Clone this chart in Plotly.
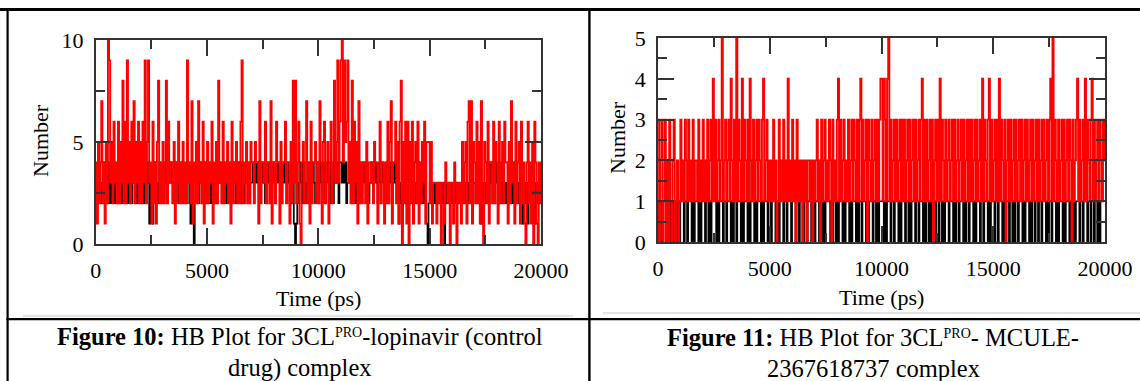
import plotly.graph_objects as go

time_ps = list(range(0, 20001, 50))

# Figure 10: 3CLpro-lopinavir (black = H-bonds, red = pairs)
lop_black = [
    3,2,3,4,2,3,2,4,3,2, 3,4,2,3,2,3,4,2,3,2,   3,4,2,3,2,4,3,2,3,2, 4,3,2,3,4,2,3,2,4,3,
    2,3,4,2,3,2,4,3,1,3, 2,1,3,4,2,3,2,4,3,2,   3,2,4,3,2,4,3,4,3,2, 3,2,4,3,2,3,4,2,3,2,
    3,2,4,3,2,1,3,2,0,2, 4,3,2,3,4,2,3,2,4,3,   3,4,3,2,4,3,2,3,4,2, 3,4,3,2,3,4,3,2,4,3,
    2,4,3,2,4,3,2,3,4,3, 2,4,3,2,3,4,3,2,4,3,   3,4,3,4,3,4,3,2,4,3, 4,3,2,4,3,4,3,2,3,4,
    3,4,3,4,3,4,2,3,4,3, 4,3,4,3,2,3,4,3,1,0,   1,3,2,4,3,2,4,3,2,3, 4,3,2,4,3,4,3,2,3,4,
    2,4,3,2,3,4,2,3,4,3, 2,4,3,2,4,3,4,3,2,4,   4,3,4,3,4,2,3,4,3,2, 3,4,3,2,3,4,2,3,4,3,
    3,4,3,4,3,2,3,4,3,4, 3,4,3,2,3,4,3,4,3,2,   3,4,2,3,4,3,2,3,4,3, 2,3,1,3,2,1,2,3,2,3,
    3,2,3,2,3,4,3,2,3,2, 4,3,2,3,2,3,2,1,0,2,   3,2,3,2,3,2,3,2,3,2, 3,2,3,0,2,3,2,3,2,3,
    2,3,2,3,2,3,2,3,2,3, 2,3,2,3,2,3,2,3,2,3,   3,2,3,2,3,2,1,3,2,3, 2,3,4,2,3,4,3,2,3,4,
    3,2,3,4,3,2,4,3,2,3, 4,3,2,3,2,3,4,3,2,3,   2,3,2,1,2,3,2,3,1,2, 3,2,3,2,1,3,2,3,2,3,
    3]
lop_red = [
    4,1,5,2,4,7,2,4,1,5, 2,10,9,3,5,2,6,3,4,2,  6,2,5,3,8,2,6,2,9,3, 5,2,6,3,7,2,5,3,6,2,
    5,2,6,3,9,2,5,9,3,4, 1,6,2,4,1,5,8,2,4,2,   5,2,4,8,2,6,3,4,4,2, 5,1,4,3,6,2,4,2,5,2,
    4,2,9,3,4,2,7,1,4,2, 5,2,7,3,4,2,6,1,4,2,   5,2,4,3,6,1,4,2,5,2, 8,3,4,2,6,2,4,3,5,2,
    4,1,6,2,4,3,5,2,4,2, 6,9,2,4,3,5,2,4,2,5,   4,4,2,5,4,4,1,7,2,4, 4,3,6,2,4,4,2,7,1,4,
    4,2,6,4,4,1,5,2,4,4, 6,2,4,4,1,5,2,8,3,8,   2,4,6,1,0,4,5,2,4,7, 2,4,1,6,2,4,4,5,2,4,
    2,7,4,1,5,6,2,4,5,1, 4,6,2,4,8,3,5,9,3,6,   9,10,4,9,5,6,9,3,5,2, 8,2,6,3,5,1,7,2,4,2,
    4,4,2,5,1,4,4,3,4,2, 5,4,4,1,4,6,2,4,4,1,   4,2,6,2,5,7,1,4,4,6, 2,5,1,6,8,0,5,2,6,1,
    6,0,5,2,6,1,4,5,2,6, 1,4,2,5,3,6,1,5,5,5,   2,5,1,3,3,3,1,3,2,3, 0,3,3,1,4,3,2,3,0,3,
    3,1,4,3,0,3,2,3,1,5, 2,4,5,1,6,7,2,7,1,5,   4,2,6,2,5,1,7,2,0,5, 4,2,6,1,4,4,2,6,2,5,
    4,1,6,2,4,5,2,6,4,4, 1,5,2,7,3,4,1,6,2,4,   5,1,6,2,4,1,0,4,6,2, 4,1,5,0,6,4,1,0,4,2,
    4]

# Figure 11: 3CLpro-MCULE-2367618737
mcule_black = [
    1,0,1,0,1,1,2,1,0,1, 0,1,1,1,0,1,1,0,1,0,   1,1,1,0,1,1,0,1,1,1, 0,1,0,1,1,1,0,1,0,1,
    1,1,0,1,1,0,1,0,1,1, 1,1,0,1,0,1,1,1,0,1,   1,0,1,1,1,0,1,0,1,1, 0,1,1,1,0,1,0,1,1,1,
    0,2,0,1,1,1,0,1,0,1, 1,1,0,1,0,1,1,1,0,1,   1,0,1,1,1,0,1,1,0,1, 1,1,0,1,1,0,1,1,1,0,
    1,1,1,0,1,1,0,1,1,1, 0,1,1,0,1,1,1,0,1,1,   0,1,1,1,0,1,1,0,1,0, 1,1,1,1,0,1,0,1,1,0,
    1,0,1,1,1,0,1,0,1,1, 1,0,1,0,1,1,1,0,1,0,   1,1,0,1,1,1,0,1,0,1, 1,1,0,1,1,0,1,0,1,1,
    1,1,0,1,0,1,1,1,0,1, 1,0,1,1,1,0,1,0,1,1,   1,0,1,1,0,1,0,1,1,1, 0,1,1,0,1,1,1,0,1,0,
    1,1,0,1,0,1,1,1,0,1, 1,0,1,1,0,1,0,1,1,1,   0,1,1,1,0,1,0,1,1,0, 1,1,1,0,1,0,1,1,0,1,
    1,1,0,1,0,1,1,1,0,1, 1,0,1,1,1,0,1,0,1,1,   1,0,1,1,0,1,1,1,0,1, 0,1,1,1,0,1,1,0,1,0,
    1,1,0,1,1,1,0,1,0,1, 1,1,0,1,0,1,1,0,1,1,   0,1,1,0,1,1,1,0,1,0, 1,1,0,1,1,1,0,1,0,1,
    1,1,0,1,0,1,1,1,0,1, 1,0,1,0,1,1,1,0,1,1,   0,1,1,1,0,1,1,0,1,1, 0,1,1,0,1,0,1,1,2,2,
    2]
mcule_red = [
    3,0,2,3,0,1,3,0,2,0, 3,1,0,2,3,0,1,2,0,1,   3,1,2,1,3,2,1,3,1,2, 1,3,1,2,2,1,3,1,2,1,
    3,1,2,1,3,1,2,3,1,4, 1,3,1,2,3,1,2,5,1,2,   3,1,2,3,1,4,2,1,3,1, 5,1,3,2,1,4,1,3,2,1,
    3,1,4,2,1,3,1,2,3,1, 3,2,1,3,4,1,2,3,1,2,   1,2,1,3,1,2,0,1,3,1, 2,1,3,1,2,1,4,1,2,1,
    3,1,2,0,3,1,2,1,2,0, 2,1,2,0,2,2,1,2,0,2,   1,2,3,1,2,0,3,1,2,3, 1,2,1,3,2,0,3,1,2,1,
    3,4,1,3,1,2,3,1,2,1, 3,1,2,3,1,3,2,1,3,1,   3,4,1,3,1,2,3,0,3,2, 1,3,1,2,3,1,3,1,3,4,
    4,1,4,3,1,4,5,1,3,1, 2,3,1,3,1,2,3,1,3,1,   3,1,2,3,1,3,1,2,3,1, 3,1,2,3,1,3,4,1,3,1,
    3,1,2,3,1,3,0,2,3,1, 3,1,4,1,3,2,1,3,1,2,   3,1,2,3,1,3,1,2,3,1, 2,3,1,3,1,2,3,1,3,1,
    3,1,2,3,1,3,1,2,3,1, 4,1,3,2,1,3,4,1,3,1,   2,3,1,3,1,4,1,3,2,1, 3,0,2,3,1,3,1,2,3,1,
    3,1,2,3,1,3,1,2,3,1, 3,1,2,3,1,3,1,2,3,1,   3,1,2,3,1,3,1,2,3,1, 3,4,1,5,1,3,2,1,3,1,
    2,3,1,3,1,2,3,1,3,2, 0,3,1,2,3,4,1,3,1,2,   3,1,4,1,3,2,1,3,4,1, 3,1,2,3,1,3,2,1,3,2,
    3]

x_ticks = [0, 5000, 10000, 15000, 20000]
y_ticks_left = [0, 5, 10]
y_ticks_right = [0, 1, 2, 3, 4, 5]

SUP = '<span style="font-size:20px"><sup>PRO</sup></span>'
caption_left = ["<b>Figure 10:</b> HB Plot for 3CL" + SUP + "-lopinavir (control",
                "drug) complex"]
caption_right = ["<b>Figure 11:</b> HB Plot for 3CL" + SUP + "- MCULE-",
                 "2367618737 complex"]

# ---------------- layout helpers ----------------
W, H = 1140, 381
FONT = "Liberation Serif"
AX = "#333333"


def px(x):
    return x / W


def py(y):
    return 1 - y / H


fig = go.Figure()
for xs, ys, color, lw, xa_id, ya_id in [
    (time_ps, lop_black, "black", 1.6, "x", "y"),
    (time_ps, lop_red, "#ff0000", 1.9, "x", "y"),
    (time_ps, mcule_black, "black", 1.6, "x2", "y2"),
    (time_ps, mcule_red, "#ff0000", 1.9, "x2", "y2"),
]:
    fig.add_trace(go.Scatter(x=xs, y=ys, mode="lines",
                             line=dict(color=color, width=lw, shape="hv", simplify=False),
                             xaxis=xa_id, yaxis=ya_id, hoverinfo="skip"))


def axis_common():
    return dict(showline=True, linecolor=AX, linewidth=1.6, mirror="ticks", ticks="inside",
                ticklen=16, tickwidth=1.6, tickcolor=AX, showgrid=False, zeroline=False,
                tickfont=dict(family=FONT, size=22, color="black"), fixedrange=True,
                ticklabelstandoff=6, automargin=False)


xa = axis_common()
xa.update(range=[0, 20000], tickvals=x_ticks, tickformat="d",
          minor=dict(dtick=2500, tick0=0, ticks="inside", ticklen=9, tickwidth=1.6, tickcolor=AX, showgrid=False))
ya = axis_common()
ya.update(range=[0, 10], tickvals=y_ticks_left, tickformat="d",
          minor=dict(dtick=2.5, tick0=0, ticks="inside", ticklen=9, tickwidth=1.6, tickcolor=AX, showgrid=False))
xa2 = dict(xa)
ya2 = axis_common()
ya2.update(range=[0, 5], tickvals=y_ticks_right, tickformat="d",
           minor=dict(dtick=0.5, tick0=0, ticks="inside", ticklen=9, tickwidth=1.6, tickcolor=AX, showgrid=False))

xa.update(domain=[px(95.7), px(541)], anchor="y")
ya.update(domain=[py(244), py(40)], anchor="x")
xa2.update(domain=[px(658), px(1105)], anchor="y2")
ya2.update(domain=[py(242), py(38)], anchor="x2")

shapes = []


def rect(x0, y0, x1, y1, color="black"):
    shapes.append(dict(type="rect", xref="paper", yref="paper", x0=px(x0), x1=px(x1),
                       y0=py(y1), y1=py(y0), fillcolor=color, line=dict(width=0), layer="above"))


rect(0, 8, 1140, 11)          # top border
rect(6.5, 9, 8.7, 381)        # left border
rect(588.2, 9, 590.6, 381)    # middle divider
rect(6.5, 318, 1140, 320.2)   # caption divider
rect(23, 315.5, 573, 316.5, "#c8c8c8")
rect(603, 312.5, 1140, 313.5, "#c8c8c8")

annotations = []


def text(x, y, s, size, angle=0):
    annotations.append(dict(x=px(x), y=py(y), xref="paper", yref="paper", text=s, showarrow=False,
                            xanchor="center", yanchor="middle", textangle=angle,
                            font=dict(family=FONT, size=size, color="black")))


text(40, 141, "Number", 22, -90)
text(318, 298, "Time (ps)", 22)
text(617, 138, "Number", 22, -90)
text(881, 297, "Time (ps)", 22)
text(300, 337, caption_left[0], 24.5)
text(300, 368, caption_left[1], 24.5)
text(873, 337, caption_right[0], 24.5)
text(873, 368, caption_right[1], 24.5)

fig.update_layout(width=W, height=H, margin=dict(l=0, r=0, t=0, b=0, pad=0, autoexpand=False),
                  showlegend=False, template="none",
                  paper_bgcolor="white", plot_bgcolor="white",
                  xaxis=xa, yaxis=ya, xaxis2=xa2, yaxis2=ya2,
                  shapes=shapes, annotations=annotations)

fig.write_html("out.html", config={"displayModeBar": False},
               post_script="document.body.style.margin='0';document.body.style.overflow='hidden';")
